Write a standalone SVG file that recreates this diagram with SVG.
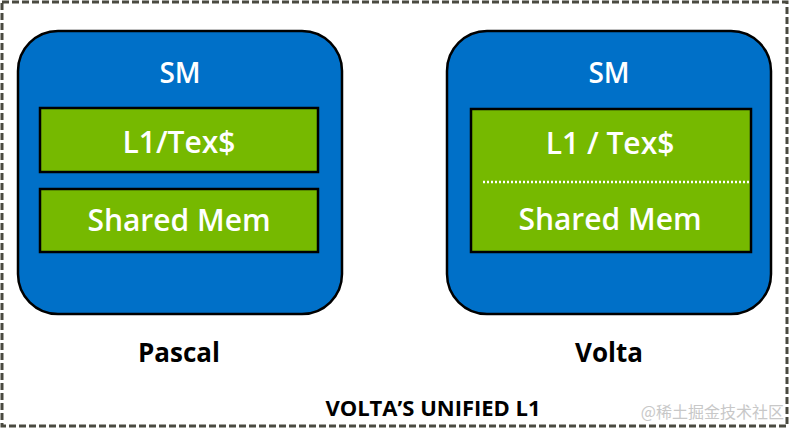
<svg xmlns="http://www.w3.org/2000/svg" width="790" height="430" viewBox="0 0 790 430">
<style>
.sm{fill:#0070c8;stroke:#000;stroke-width:2.5}
.gr{fill:#76b900;stroke:#000;stroke-width:2.5}
.wt{fill:#fff;font-family:"Open Sans","DejaVu Sans",sans-serif;font-weight:600;text-anchor:middle}
.lb{fill:#000;font-family:"Open Sans","DejaVu Sans",sans-serif;font-weight:700;text-anchor:middle}
</style>
<rect x="0" y="0" width="790" height="430" fill="#fff"/>
<rect x="2" y="2" width="785" height="424" fill="none" stroke="#4a4a40" stroke-width="3" stroke-dasharray="7,3"/>
<g id="pascal">
<rect class="sm" x="18" y="31" width="324" height="283" rx="40"/>
<text class="wt" x="180" y="83" font-size="28">SM</text>
<g id="pascal-l1"><rect class="gr" x="40" y="108" width="278" height="64"/>
<text class="wt" x="179" y="153" font-size="30">L1/Tex$</text></g>
<g id="pascal-shm"><rect class="gr" x="40" y="189" width="278" height="63"/>
<text class="wt" x="179" y="231" font-size="30">Shared Mem</text></g>
<text class="lb" x="179" y="362" font-size="26">Pascal</text>
</g>
<g id="volta">
<rect class="sm" x="447" y="31" width="324" height="283" rx="40"/>
<text class="wt" x="609" y="83" font-size="28">SM</text>
<g id="volta-unified"><rect class="gr" x="471" y="109" width="280" height="143"/>
<line x1="483" y1="182" x2="750" y2="182" stroke="#fff" stroke-width="2.5" stroke-dasharray="2,2"/>
<text class="wt" x="610" y="154" font-size="30">L1 / Tex$</text>
<text class="wt" x="610" y="230" font-size="30">Shared Mem</text></g>
<text class="lb" x="609" y="362" font-size="26">Volta</text>
</g>
<text class="lb" x="433" y="416" font-size="22">VOLTA’S UNIFIED L1</text>
<text x="784" y="418" font-size="16" fill="#c8c8c8" font-family="'Noto Sans CJK SC',sans-serif" text-anchor="end">@稀土掘金技术社区</text>
</svg>
